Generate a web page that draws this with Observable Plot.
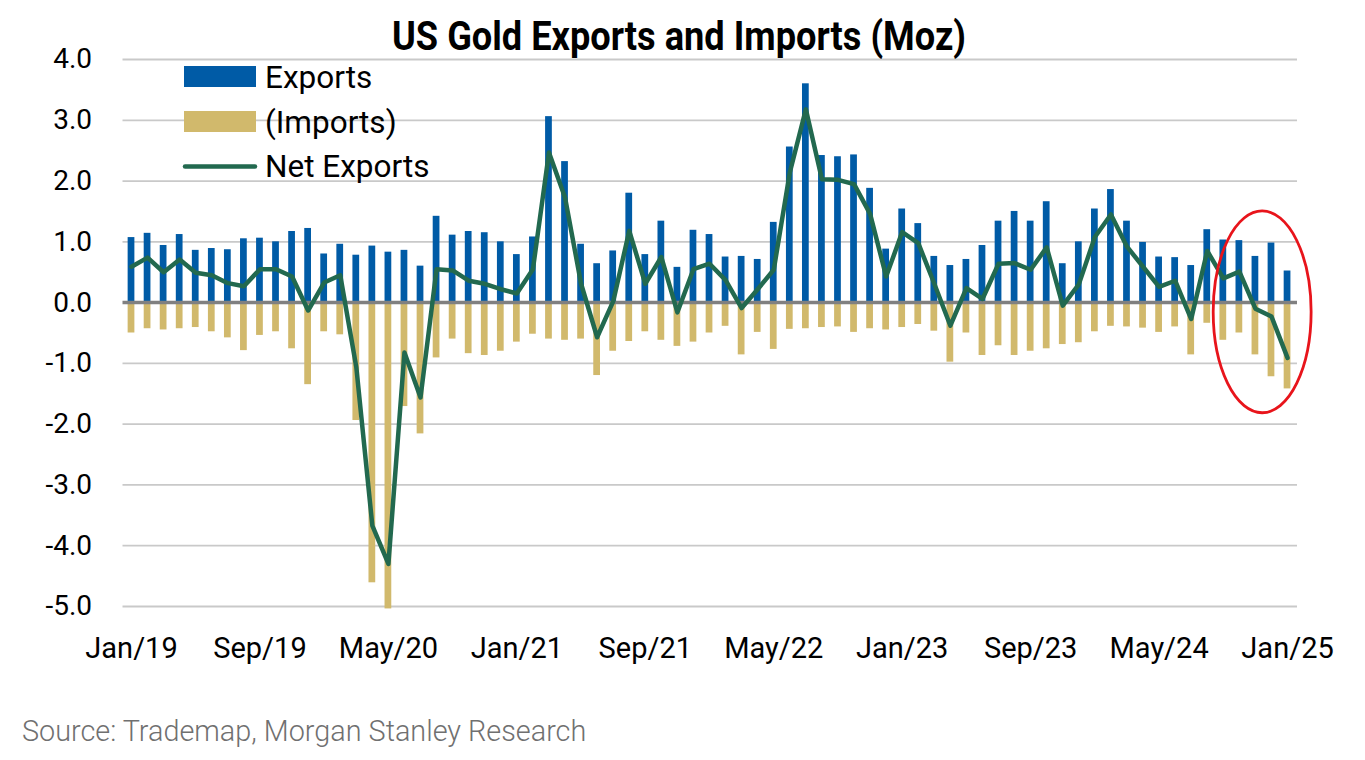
<!DOCTYPE html>
<html>
<head>
<meta charset="utf-8">
<script src="https://cdn.jsdelivr.net/npm/d3@7"></script>
<script src="https://cdn.jsdelivr.net/npm/@observablehq/plot@0.6"></script>
<style>
  html, body { margin: 0; padding: 0; background: #fff; }
  #wrap { position: relative; width: 1365px; height: 760px; overflow: hidden; font-family: Roboto, "Noto Sans", sans-serif; }
  #chart svg { display: block; }
  #overlay { position: absolute; left: 0; top: 0; pointer-events: none; }
  #source { font-family: Roboto, sans-serif; font-weight: 300; font-size: 28.8px; line-height: 32px; color: #707070; padding-left: 22px; margin-top: 15px; }
</style>
</head>
<body>
<div id="wrap">
  <div id="chart"></div>
  <svg id="overlay" width="1365" height="700"></svg>
  <div id="source">Source: Trademap, Morgan Stanley Research</div>
</div>
<script>
// ---- Data (Moz), monthly Jan 2019 – Jan 2025 ----
const months = d3.utcMonths(new Date(Date.UTC(2019, 0, 1)), new Date(Date.UTC(2025, 1, 1)));

const exportsMoz = [
  1.07, 1.14, 0.94, 1.12, 0.86, 0.89, 0.87, 1.05, 1.06, 1.00, 1.17, 1.22,
  0.80, 0.96, 0.78, 0.93, 0.83, 0.86, 0.60, 1.42, 1.11, 1.17, 1.15, 1.00,
  0.79, 1.08, 3.06, 2.32, 0.96, 0.64, 0.85, 1.80, 0.79, 1.34, 0.58, 1.19,
  1.12, 0.75, 0.76, 0.71, 1.32, 2.56, 3.60, 2.42, 2.40, 2.43, 1.88, 0.88,
  1.54, 1.30, 0.76, 0.61, 0.71, 0.94, 1.34, 1.50, 1.34, 1.66, 0.64, 1.00,
  1.54, 1.86, 1.34, 0.99, 0.75, 0.74, 0.61, 1.20, 1.03, 1.02, 0.76, 0.98,
  0.52
];

const importsMoz = [
  -0.50, -0.43, -0.45, -0.43, -0.41, -0.48, -0.58, -0.79, -0.54, -0.48, -0.76, -1.35,
  -0.48, -0.53, -1.94, -4.61, -5.04, -1.71, -2.16, -0.91, -0.60, -0.84, -0.87, -0.80,
  -0.65, -0.52, -0.60, -0.62, -0.60, -1.20, -0.80, -0.64, -0.48, -0.62, -0.72, -0.65,
  -0.50, -0.39, -0.86, -0.49, -0.77, -0.44, -0.43, -0.41, -0.40, -0.49, -0.43, -0.45,
  -0.41, -0.36, -0.47, -0.98, -0.50, -0.87, -0.71, -0.87, -0.80, -0.76, -0.69, -0.66,
  -0.48, -0.39, -0.40, -0.42, -0.49, -0.40, -0.86, -0.34, -0.62, -0.50, -0.86, -1.22,
  -1.42
];

const netExportsMoz = [
  0.59, 0.74, 0.50, 0.71, 0.49, 0.45, 0.32, 0.27, 0.55, 0.55, 0.43, -0.13,
  0.33, 0.45, -1.06, -3.67, -4.30, -0.82, -1.56, 0.55, 0.53, 0.36, 0.31, 0.22,
  0.15, 0.55, 2.47, 1.73, 0.31, -0.57, 0.02, 1.18, 0.31, 0.75, -0.16, 0.55,
  0.64, 0.37, -0.09, 0.22, 0.54, 2.14, 3.18, 2.03, 2.02, 1.95, 1.46, 0.43,
  1.16, 0.98, 0.31, -0.38, 0.24, 0.06, 0.64, 0.65, 0.54, 0.91, -0.05, 0.30,
  1.08, 1.45, 0.92, 0.59, 0.26, 0.36, -0.27, 0.85, 0.40, 0.51, -0.10, -0.23,
  -0.91
];

const xTickLabels = ["Jan/19", "Sep/19", "May/20", "Jan/21", "Sep/21", "May/22", "Jan/23", "Sep/23", "May/24", "Jan/25"];
const xTickMonths = xTickLabels.map((_, k) => k * 8);   // month index of each label
const yTicks = [-5, -4, -3, -2, -1, 0, 1, 2, 3, 4];

const seriesNames = ["Exports", "(Imports)", "Net Exports"];
const colors = { exp: "#005BA6", imp: "#D1B96C", net: "#22694F" };

// highlighted window (months index range, value range)
const highlightMonths = [67.4, 73.5];
const highlightValues = [-1.82, 1.5];

// ---- Table ----
const rows = months.map((m, i) => ({ i, month: m, exp: exportsMoz[i], imp: importsMoz[i], net: netExportsMoz[i] }));

const halfBar = 0.21;

const ellipseMark = (index, scales) => {
  const x0 = scales.x(highlightMonths[0]), x1 = scales.x(highlightMonths[1]);
  const y0 = scales.y(highlightValues[1]), y1 = scales.y(highlightValues[0]);
  return d3.create("svg:ellipse")
    .attr("cx", (x0 + x1) / 2).attr("cy", (y0 + y1) / 2)
    .attr("rx", Math.abs(x1 - x0) / 2).attr("ry", Math.abs(y1 - y0) / 2)
    .attr("fill", "none").attr("stroke", "#E8141B").attr("stroke-width", 2.8)
    .node();
};

const plot = Plot.plot({
  width: 1365,
  height: 700,
  marginLeft: 122.5,
  marginRight: 68,
  marginTop: 59,
  marginBottom: 94,
  style: { background: "transparent", fontFamily: "Roboto, sans-serif", color: "#000" },
  x: { type: "linear", domain: [-0.53, 72.62] },
  y: { domain: [-5, 4] },
  marks: [
    Plot.ruleY(yTicks.filter(d => d !== 0), { stroke: "#c9c9c9", strokeWidth: 1.8 }),
    Plot.rectY(rows, { x1: d => d.i - halfBar, x2: d => d.i + halfBar, y: "exp", fill: colors.exp }),
    Plot.rectY(rows, { x1: d => d.i - halfBar, x2: d => d.i + halfBar, y: "imp", fill: colors.imp }),
    Plot.ruleY([0], { stroke: "#808080", strokeWidth: 3.5 }),
    Plot.line(rows, { x: "i", y: "net", stroke: colors.net, strokeWidth: 4.5, strokeLinejoin: "round", strokeLinecap: "round" }),
    ellipseMark,
    Plot.axisX({ ticks: xTickMonths, tickFormat: d => xTickLabels[xTickMonths.indexOf(d)], tickSize: 0, tickPadding: 31, fontSize: 29, fill: "#000", label: null }),
    Plot.axisY({ ticks: yTicks, tickFormat: d => d.toFixed(1), tickSize: 0, tickPadding: 31, fontSize: 28, fill: "#000", label: null })
  ]
});
document.getElementById("chart").appendChild(plot);

// ---- Overlay: title + legend ----
const ov = d3.select("#overlay");
ov.append("text")
  .attr("x", 679).attr("y", 49.5)
  .attr("text-anchor", "middle")
  .attr("font-family", "Roboto, sans-serif").attr("font-weight", 700).attr("font-size", 40)
  .attr("textLength", 574).attr("lengthAdjust", "spacingAndGlyphs")
  .attr("fill", "#000")
  .text("US Gold Exports and Imports (Moz)");

const lg = ov.append("g").attr("font-family", "Roboto, sans-serif").attr("font-size", 31.5).attr("fill", "#000");
lg.append("rect").attr("x", 184).attr("y", 66).attr("width", 72).attr("height", 21).attr("fill", colors.exp);
lg.append("rect").attr("x", 184).attr("y", 111).attr("width", 72).attr("height", 21).attr("fill", colors.imp);
lg.append("line").attr("x1", 185).attr("x2", 255).attr("y1", 166.5).attr("y2", 166.5)
  .attr("stroke", colors.net).attr("stroke-width", 4.5).attr("stroke-linecap", "round");
[87.7, 133.3, 176.7].forEach((y, k) => {
  lg.append("text").attr("x", 265).attr("y", y).text(seriesNames[k]);
});
</script>
</body>
</html>
